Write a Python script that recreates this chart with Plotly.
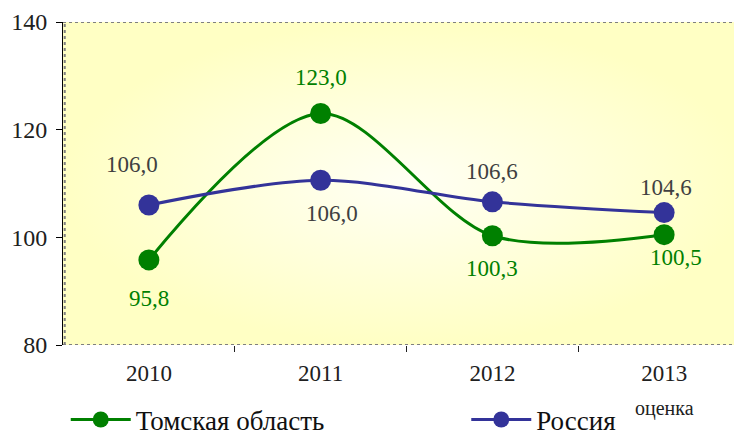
import plotly.graph_objects as go

years = ["2010", "2011", "2012", "2013"]
tomsk_values = [95.8, 123.0, 100.3, 100.5]
tomsk_labels = ["95,8", "123,0", "100,3", "100,5"]
russia_values = [106.0, 110.6, 106.6, 104.6]
russia_labels = ["106,0", "106,0", "106,6", "104,6"]
y_ticks = [80, 100, 120, 140]
sub_label = "оценка"

FONT = "serif"
GREEN = "#008000"
BLUE = "#333399"

x = list(range(len(years)))
fig = go.Figure()

# gradient background
fig.add_trace(go.Scatter(
    x=[-0.5, 3.5, 3.5, -0.5, -0.5], y=[80, 80, 140, 140, 80],
    fill="toself", mode="lines", line=dict(width=0, color="rgba(0,0,0,0)"),
    fillgradient=dict(type="radial", colorscale=[[0, "#FFFFF4"], [1, "#FFFFC4"]]),
    hoverinfo="skip", showlegend=False))

fig.add_trace(go.Scatter(
    x=x, y=tomsk_values, name="Томская область", mode="lines+markers",
    line=dict(color=GREEN, width=3, shape="spline", smoothing=0.9),
    marker=dict(size=21, color=GREEN), legend="legend"))
fig.add_trace(go.Scatter(
    x=x, y=russia_values, name="Россия", mode="lines+markers",
    line=dict(color=BLUE, width=3, shape="spline", smoothing=0.9),
    marker=dict(size=21, color=BLUE), legend="legend2"))

tomsk_shift = [(0, -39), (0, 36), (0, -33), (12, -23)]
russia_shift = [(-17, 41), (11, -33), (0, 30), (2, 25)]
for i in x:
    fig.add_annotation(x=i, y=tomsk_values[i], text=tomsk_labels[i], showarrow=False,
                       xshift=tomsk_shift[i][0], yshift=tomsk_shift[i][1],
                       font=dict(family=FONT, size=23, color=GREEN))
    fig.add_annotation(x=i, y=russia_values[i], text=russia_labels[i], showarrow=False,
                       xshift=russia_shift[i][0], yshift=russia_shift[i][1],
                       font=dict(family=FONT, size=23, color="#404040"))

fig.add_annotation(x=3, y=0, yref="paper", yanchor="middle", text=sub_label, showarrow=False,
                   yshift=-63, font=dict(family=FONT, size=20, color="#202020"))

# dotted border
border = dict(color="#7F7F7F", width=2, dash="dot")
fig.add_shape(type="line", xref="x", yref="y", x0=-0.5, x1=3.5, y0=140, y1=140, line=border)
fig.add_shape(type="line", xref="x", yref="y", x0=-0.5, x1=3.5, y0=80, y1=80, line=border)
fig.add_shape(type="line", xref="x", yref="y", x0=-0.49, x1=-0.49, y0=80, y1=140, line=border)

fig.update_xaxes(
    range=[-0.5, 3.5], tickvals=x, ticktext=years, ticks="", showgrid=False,
    zeroline=False, showline=False, ticklabelstandoff=12,
    tickfont=dict(family=FONT, size=23, color="#202020"),
    minor=dict(tickvals=[0.5, 1.5, 2.5], ticks="outside", ticklen=6, tickcolor="#202020", tickwidth=1, showgrid=False))
fig.update_yaxes(
    range=[80, 140], tickvals=y_ticks, ticks="outside", ticklen=6, tickcolor="black",
    showline=True, linecolor="black", linewidth=1, showgrid=False, zeroline=False,
    ticklabelstandoff=4,
    tickfont=dict(family=FONT, size=24, color="#202020"))

leg_common = dict(orientation="h", yanchor="middle", y=-0.232, xanchor="left",
                  font=dict(family=FONT, size=27, color="#101010"),
                  itemwidth=60, bgcolor="rgba(0,0,0,0)")
fig.update_layout(
    width=742, height=439,
    font=dict(family=FONT),
    margin=dict(l=55, r=0, t=14, b=102, autoexpand=False),
    paper_bgcolor="white", plot_bgcolor="#FFFFE6",
    showlegend=True,
    legend=dict(x=0.004, **leg_common),
    legend2=dict(x=0.587, **leg_common),
)

fig.write_html("out.html")
